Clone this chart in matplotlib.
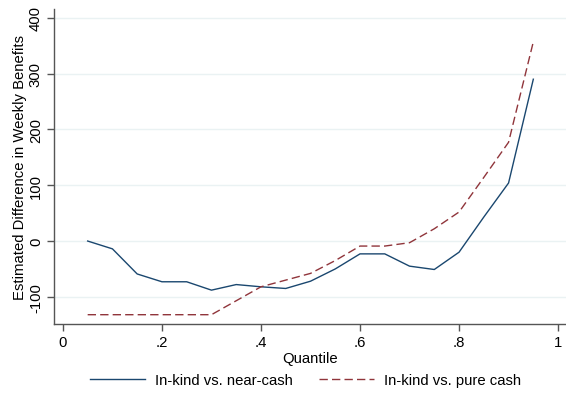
import numpy as np
import matplotlib.pyplot as plt

plt.rcParams['font.family'] = ['Liberation Sans', 'DejaVu Sans']

# quantile grid and estimated differences (weekly benefits)
quantiles = [0.05, 0.10, 0.15, 0.20, 0.25, 0.30, 0.35, 0.40, 0.45, 0.50,
             0.55, 0.60, 0.65, 0.70, 0.75, 0.80, 0.85, 0.90, 0.95]
near_cash = [0, -14, -59, -73, -73, -88, -78, -82, -85, -72,
             -50, -23, -23, -45, -51, -20, 43, 104, 290]
pure_cash = [-132, -132, -132, -132, -132, -132, -107, -82, -70, -58,
             -35, -9, -9, -3, 22, 52, 114, 177, 357]

xticks = [0, 0.2, 0.4, 0.6, 0.8, 1.0]
xticklabels = ['0', '.2', '.4', '.6', '.8', '1']
yticks = [-100, 0, 100, 200, 300, 400]

fs = 10.7

fig = plt.figure(figsize=(5.66, 4.02), dpi=100)
ax = fig.add_axes([0.0954, 0.1915, 0.9046, 0.7836])

ax.plot(quantiles, near_cash, color='#1a476f', lw=1.0, label='In-kind vs. near-cash')
ax.plot(quantiles, pure_cash, color='#90353b', lw=1.0, ls=(0, (6, 3)),
        label='In-kind vs. pure cash')

ax.set_xlim(-0.018, 1.016)
ax.set_ylim(-148.7, 415.8)
ax.set_xticks(xticks)
ax.set_xticklabels(xticklabels)
ax.set_yticks(yticks)
ax.set_yticklabels([str(v) for v in yticks], rotation=90, va='center')
ax.yaxis.grid(True, color='#eaf2f3', lw=1.0)
ax.set_axisbelow(True)

for s in ['top', 'right']:
    ax.spines[s].set_visible(False)
for s in ['left', 'bottom']:
    ax.spines[s].set_color('#555555')
    ax.spines[s].set_linewidth(1.0)
ax.tick_params(direction='out', length=5, width=1.0, color='#555555',
               labelsize=fs, pad=3)

ax.set_xlabel('Quantile', fontsize=fs, labelpad=1)
ax.set_ylabel('Estimated Difference in Weekly Benefits', fontsize=fs, labelpad=1)

fig.legend(loc='center', bbox_to_anchor=(0.54, 0.052), ncol=2, frameon=False,
           fontsize=fs, handlelength=3.7, columnspacing=1.75, handletextpad=0.65)

fig.savefig('out.png', dpi=100, facecolor='white')
